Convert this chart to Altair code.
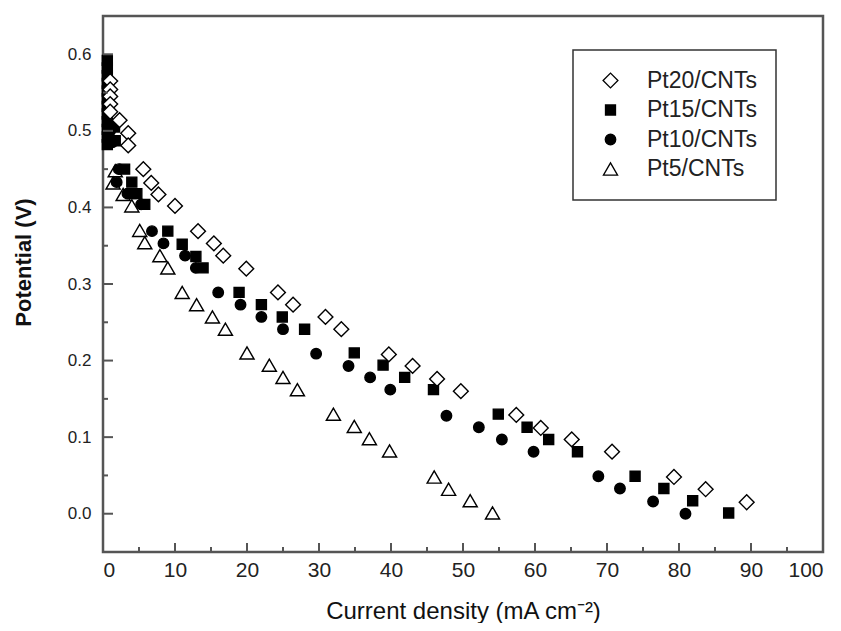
import altair as alt
import pandas as pd

series = ["Pt20/CNTs", "Pt15/CNTs", "Pt10/CNTs", "Pt5/CNTs"]

pt20_x = [1.0, 1.0, 1.0, 1.0, 1.0, 2.3, 3.5, 3.5, 5.6, 6.7, 7.7, 10.0, 13.2, 15.4, 16.7,
          19.9, 24.3, 26.4, 30.9, 33.1, 39.7, 43.0, 46.4, 49.7, 57.4, 60.8, 65.1, 70.7,
          79.3, 83.7, 89.4]
pt20_y = [0.565, 0.554, 0.545, 0.535, 0.525, 0.514, 0.497, 0.481, 0.450, 0.432, 0.417,
          0.402, 0.369, 0.353, 0.337, 0.320, 0.289, 0.273, 0.257, 0.241, 0.208, 0.193,
          0.176, 0.160, 0.129, 0.112, 0.097, 0.081, 0.048, 0.032, 0.015]

pt15_x = [0.6, 0.6, 0.6, 0.6, 0.6, 0.6, 0.6, 0.6, 0.6, 0.6, 0.6, 0.6, 1.6, 1.7,
          3.0, 4.0, 3.9, 4.7, 5.8, 9.0, 11.0, 12.9, 13.9, 18.9, 22.0, 24.9, 28.0,
          34.9, 38.9, 41.9, 45.9, 54.9, 58.9, 61.9, 65.9, 73.9, 77.9, 81.9, 86.9]
pt15_y = [0.592, 0.582, 0.572, 0.562, 0.552, 0.542, 0.532, 0.522, 0.512, 0.502, 0.492,
          0.482, 0.505, 0.487, 0.450, 0.433, 0.418, 0.418, 0.404, 0.369, 0.352, 0.336,
          0.321, 0.289, 0.273, 0.257, 0.241, 0.210, 0.194, 0.178, 0.162, 0.130, 0.113,
          0.097, 0.081, 0.049, 0.033, 0.017, 0.001]

pt10_x = [0.7, 0.8, 1.0, 1.3, 2.2, 1.9, 3.4, 5.3, 6.8, 8.4, 11.4, 12.9, 16.0, 19.1,
          22.0, 25.0, 29.6, 34.1, 37.1, 39.9, 47.7, 52.2, 55.4, 59.8, 68.8, 71.8,
          76.4, 80.9]
pt10_y = [0.560, 0.530, 0.500, 0.485, 0.450, 0.433, 0.418, 0.404, 0.369, 0.353, 0.337,
          0.321, 0.289, 0.273, 0.257, 0.241, 0.209, 0.193, 0.178, 0.162, 0.128, 0.113,
          0.097, 0.081, 0.049, 0.033, 0.016, 0.000]

pt5_x = [1.7, 1.4, 2.8, 4.0, 5.1, 5.8, 7.9, 9.0, 11.0, 13.0, 15.2, 17.0, 20.0, 23.1,
         25.0, 27.0, 32.0, 34.9, 37.0, 39.8, 46.0, 48.0, 51.0, 54.1]
pt5_y = [0.448, 0.432, 0.417, 0.402, 0.370, 0.354, 0.337, 0.321, 0.289, 0.273, 0.257,
         0.241, 0.210, 0.194, 0.178, 0.162, 0.130, 0.114, 0.098, 0.082, 0.048, 0.032,
         0.017, 0.001]

x_major = [0, 10, 20, 30, 40, 50, 60, 70, 80, 90, 100]
x_minor = [5, 15, 25, 35, 45, 55, 65, 75, 85, 95]
y_major = [0.0, 0.1, 0.2, 0.3, 0.4, 0.5, 0.6]
y_minor = [0.05, 0.15, 0.25, 0.35, 0.45, 0.55]

W, H = 720, 536
GRAY = "#555555"
SANS = "Liberation Sans, Arial, sans-serif"

rows = []
draw_rank = {"Pt5/CNTs": 0, "Pt10/CNTs": 1, "Pt15/CNTs": 2, "Pt20/CNTs": 3}
for name, xs, ys in [("Pt20/CNTs", pt20_x, pt20_y), ("Pt15/CNTs", pt15_x, pt15_y),
                     ("Pt10/CNTs", pt10_x, pt10_y), ("Pt5/CNTs", pt5_x, pt5_y)]:
    for i, (a, b) in enumerate(zip(xs, ys)):
        rows.append({"series": name, "j": a, "v": b, "z": draw_rank[name] * 100 + i})
df = pd.DataFrame(rows).sort_values("z")

xscale = alt.Scale(domain=[0, 100], nice=False, zero=False)
yscale = alt.Scale(domain=[-0.05, 0.65], nice=False, zero=False)

x_axis = alt.Axis(values=x_major, title="Current density (mA cm⁻²)",
                  labelFont=SANS, labelFontSize=21, labelPadding=7, titlePadding=19,
                  titleFont=SANS, titleFontSize=24, titleFontWeight="normal")
y_axis = alt.Axis(values=y_major, format=".1f", title="Potential (V)",
                  labelFont=SANS, labelFontSize=17, labelPadding=12, titlePadding=32,
                  titleY=246,
                  titleFont=SANS, titleFontSize=22, titleFontWeight="bold")

leg = alt.Legend(title=None)

points = alt.Chart(df).mark_point(strokeWidth=1.4, opacity=1).encode(
    x=alt.X("j:Q", scale=xscale, axis=x_axis),
    y=alt.Y("v:Q", scale=yscale, axis=y_axis),
    shape=alt.Shape("series:N", scale=alt.Scale(domain=series,
                    range=["diamond", "square", "circle", "triangle-up"]), legend=leg),
    fill=alt.Fill("series:N", scale=alt.Scale(domain=series,
                  range=["white", "black", "black", "white"]), legend=leg),
    stroke=alt.Stroke("series:N", scale=alt.Scale(domain=series,
                      range=["black", "black", "black", "black"]), legend=leg),
    size=alt.Size("series:N", scale=alt.Scale(type="ordinal", domain=series,
                  range=[220, 100, 110, 200]), legend=leg),
    order=alt.Order("z:Q"),
)

def xticks(vals, length):
    return alt.Chart(pd.DataFrame({"j": vals})).mark_rule(color=GRAY, strokeWidth=2).encode(
        x=alt.X("j:Q", scale=xscale, axis=x_axis),
        y=alt.value(H), y2=alt.value(H - length))

def yticks(vals, length):
    return alt.Chart(pd.DataFrame({"v": vals})).mark_rule(color=GRAY, strokeWidth=2).encode(
        y=alt.Y("v:Q", scale=yscale, axis=y_axis),
        x=alt.value(0), x2=alt.value(length))

chart = alt.layer(
    points, xticks(x_major, 9), xticks(x_minor, 5), yticks(y_major, 10), yticks(y_minor, 5)
).properties(
    width=W, height=H,
    padding={"left": 95, "top": 8, "right": 10, "bottom": 71},
    autosize=alt.AutoSizeParams(type="none"),
    background="white",
).configure_view(
    stroke=GRAY, strokeWidth=2.5
).configure_axis(
    ticks=False, tickSize=0, domain=False, grid=False,
    labelColor="#222222", titleColor="#111111",
).configure_legend(
    orient="none", legendX=470, legendY=34,
    padding=19, strokeColor="#333333", strokeWidth=1.5, fillColor="white",
    labelFont=SANS, labelFontSize=23, labelColor="#222222",
    labelOffset=25, symbolOffset=7, rowPadding=5.5,
    symbolStrokeColor="black", symbolStrokeWidth=1.3, symbolOpacity=1,
)

chart.save("out.html", embed_options={"renderer": "svg", "actions": False})
